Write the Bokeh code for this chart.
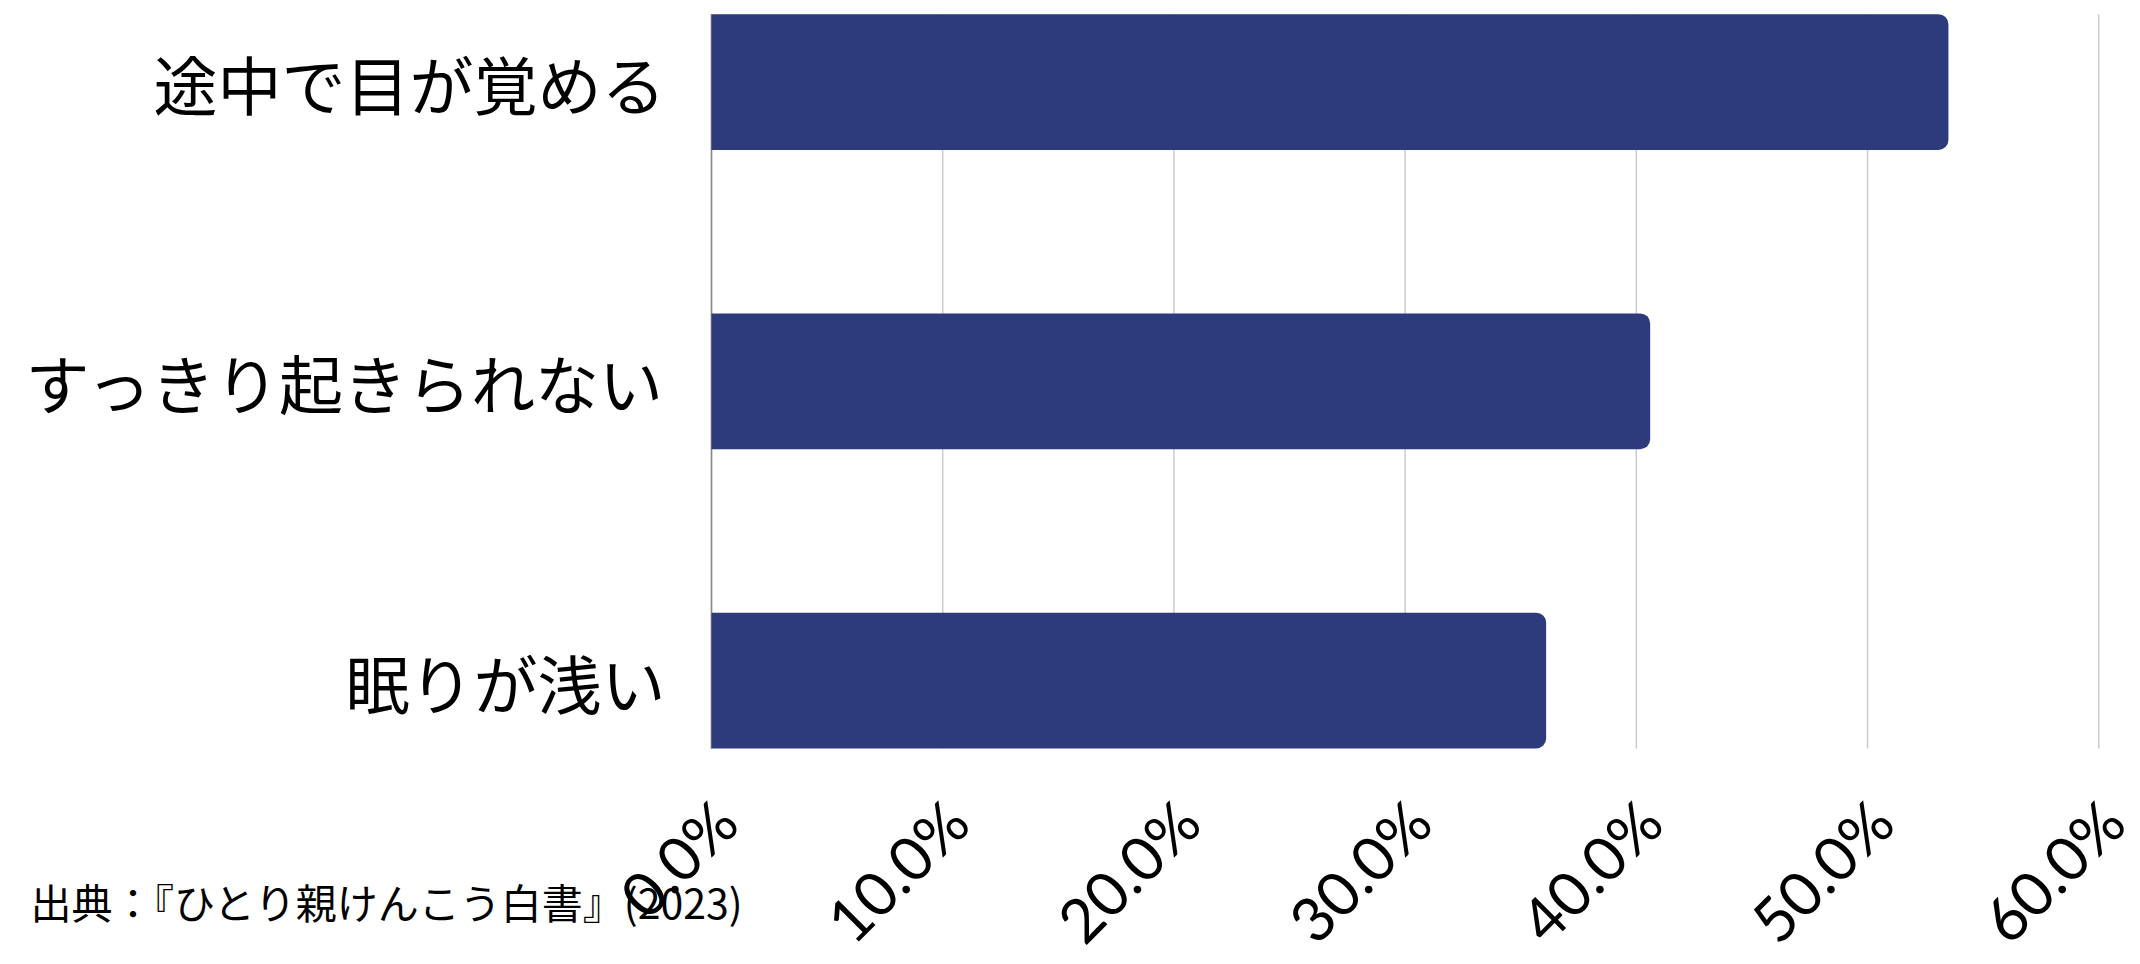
import math
from bokeh.plotting import figure
from bokeh.models import Range1d, Label, ColumnDataSource
from bokeh.core.properties import value
from bokeh.embed import file_html
from bokeh.resources import INLINE

# ---- data ----
categories = ["途中で目が覚める", "すっきり起きられない", "眠りが浅い"]
values = [0.535, 0.406, 0.361]
x_ticks = [0.0, 0.1, 0.2, 0.3, 0.4, 0.5, 0.6]
x_tick_labels = ["0.0%", "10.0%", "20.0%", "30.0%", "40.0%", "50.0%", "60.0%"]
source_note = "出典：『ひとり親けんこう白書』(2023)"

# ---- layout constants (pixels) ----
W, H = 2140, 964
FRAME_LEFT = 711.0        # pixel of x = 0
PX_PER_UNIT = 2312.0      # pixels per 1.0 (=100%)
BAR_H = 0.454
TOP_PX, BOT_PX = 13.65, 748.0   # pixel rows of plot top / bottom

n = len(categories)
pos = list(range(n))
y_lo, y_hi = -BAR_H / 2, n - 1 + BAR_H / 2
ypx = (BOT_PX - TOP_PX) / (y_hi - y_lo)

x_start = -FRAME_LEFT / PX_PER_UNIT
x_end = x_start + W / PX_PER_UNIT
y_top = y_lo - TOP_PX / ypx
y_bottom = y_hi + (H - BOT_PX) / ypx

p = figure(width=W, height=H, output_backend="svg", toolbar_location=None,
           x_range=Range1d(x_start, x_end), y_range=Range1d(y_bottom, y_top),
           x_axis_location=None, y_axis_location=None,
           min_border=0, min_border_left=0, min_border_right=0,
           min_border_top=0, min_border_bottom=0)
p.outline_line_color = None
p.background_fill_color = "white"
p.border_fill_color = "white"
p.grid.visible = False

# vertical grid lines, limited to the plot area
grid_src = ColumnDataSource(dict(x=x_ticks, y0=[y_lo] * len(x_ticks), y1=[y_hi] * len(x_ticks)))
p.segment(x0="x", y0="y0", x1="x", y1="y1", source=grid_src,
          line_color="#cccccc", line_width=1.5)

# y axis line
p.segment(x0=[0], y0=[y_lo], x1=[0], y1=[y_hi], line_color="#888888", line_width=1.5)

# bars
src = ColumnDataSource(dict(y=pos, right=values, cat=categories))
p.hbar(y="y", right="right", left=0, height=BAR_H, source=src,
       fill_color="#2d3a7c", line_color=None, border_radius=(0, 10, 10, 0))

# category labels
p.text(x=0, y="y", text="cat", source=src, x_offset=-46,
       text_align="right", text_baseline="middle",
       text_font=value("Noto Sans CJK JP"), text_font_size="64px", text_color="black")

# x tick labels (rotated)
tick_src = ColumnDataSource(dict(x=x_ticks, y=[y_hi] * len(x_ticks), t=x_tick_labels))
p.text(x="x", y="y", text="t", source=tick_src, x_offset=14, y_offset=62,
       angle=math.pi / 4, text_align="right", text_baseline="middle",
       text_font=value("Lato"), text_font_size="61px", text_color="black")

# source note
p.add_layout(Label(x=30, y=H - 900, x_units="screen", y_units="screen",
                   text=source_note, text_font="Noto Sans CJK JP", text_font_size="41px",
                   text_baseline="middle", text_align="left", text_color="black"))

open("out.html", "w").write(file_html(p, INLINE))
